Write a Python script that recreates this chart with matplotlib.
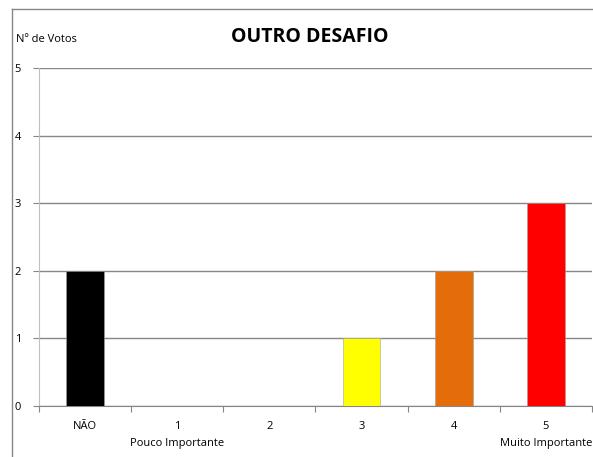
import matplotlib.pyplot as plt
from matplotlib.lines import Line2D

categories = ['NÃO', '1', '2', '3', '4', '5']
votes = [2, 0, 0, 1, 2, 3]
bar_colors = ['#000000', '#000000', '#000000', '#FFFF00', '#E46C0A', '#FF0000']
sub_labels = {1: 'Pouco Importante', 5: 'Muito Importante'}

plt.rcParams['font.family'] = ['Open Sans', 'DejaVu Sans']

fig = plt.figure(figsize=(5.93, 4.57), dpi=100)
ax = fig.add_axes([39 / 593, 1 - 406 / 457, 553 / 593, (406 - 68) / 457])

x = list(range(len(categories)))
ax.bar(x, votes, width=0.41, color=bar_colors, edgecolor='#A0A0A0', linewidth=0.4, zorder=3)

ax.set_xlim(-0.5, len(categories) - 0.5)
ax.set_ylim(0, 5)
ax.set_yticks(range(6))
ax.yaxis.grid(True, color='#868686', linewidth=1, zorder=0)
ax.set_axisbelow(True)

# category labels between tick marks
ax.set_xticks([i + 0.5 for i in range(-1, len(categories))])
ax.set_xticklabels([])
ax.set_xticks(x, minor=True)
ax.set_xticklabels(categories, minor=True, fontsize=8)
ax.tick_params(axis='x', which='minor', length=0, pad=11)
ax.tick_params(axis='x', which='major', length=4, color='#868686')
ax.tick_params(axis='y', length=4, color='#868686', labelsize=8, pad=9)

for s in ['top', 'right']:
    ax.spines[s].set_visible(False)
ax.spines['left'].set_color('#BFBFBF')
ax.spines['bottom'].set_color('#868686')

for i, txt in sub_labels.items():
    ax.annotate(txt, xy=(i, 0), xycoords=('data', 'axes fraction'),
                xytext=(0, -27), textcoords='offset points',
                ha='center', va='center', fontsize=8)

fig.text(310 / 593, 1 - 37 / 457, 'OUTRO DESAFIO', ha='center', va='center',
         fontsize=14, fontweight='bold')
fig.text(16 / 593, 1 - 40 / 457, 'Nº de Votos', ha='left', va='center', fontsize=8)

# chart frame
fig.add_artist(Line2D([12 / 593, 12 / 593], [0, 1 - 9 / 457], transform=fig.transFigure,
                      color='#868686', linewidth=1))
fig.add_artist(Line2D([12 / 593, 1], [1 - 9 / 457, 1 - 9 / 457], transform=fig.transFigure,
                      color='#868686', linewidth=1))

fig.savefig('out.png', dpi=100)
